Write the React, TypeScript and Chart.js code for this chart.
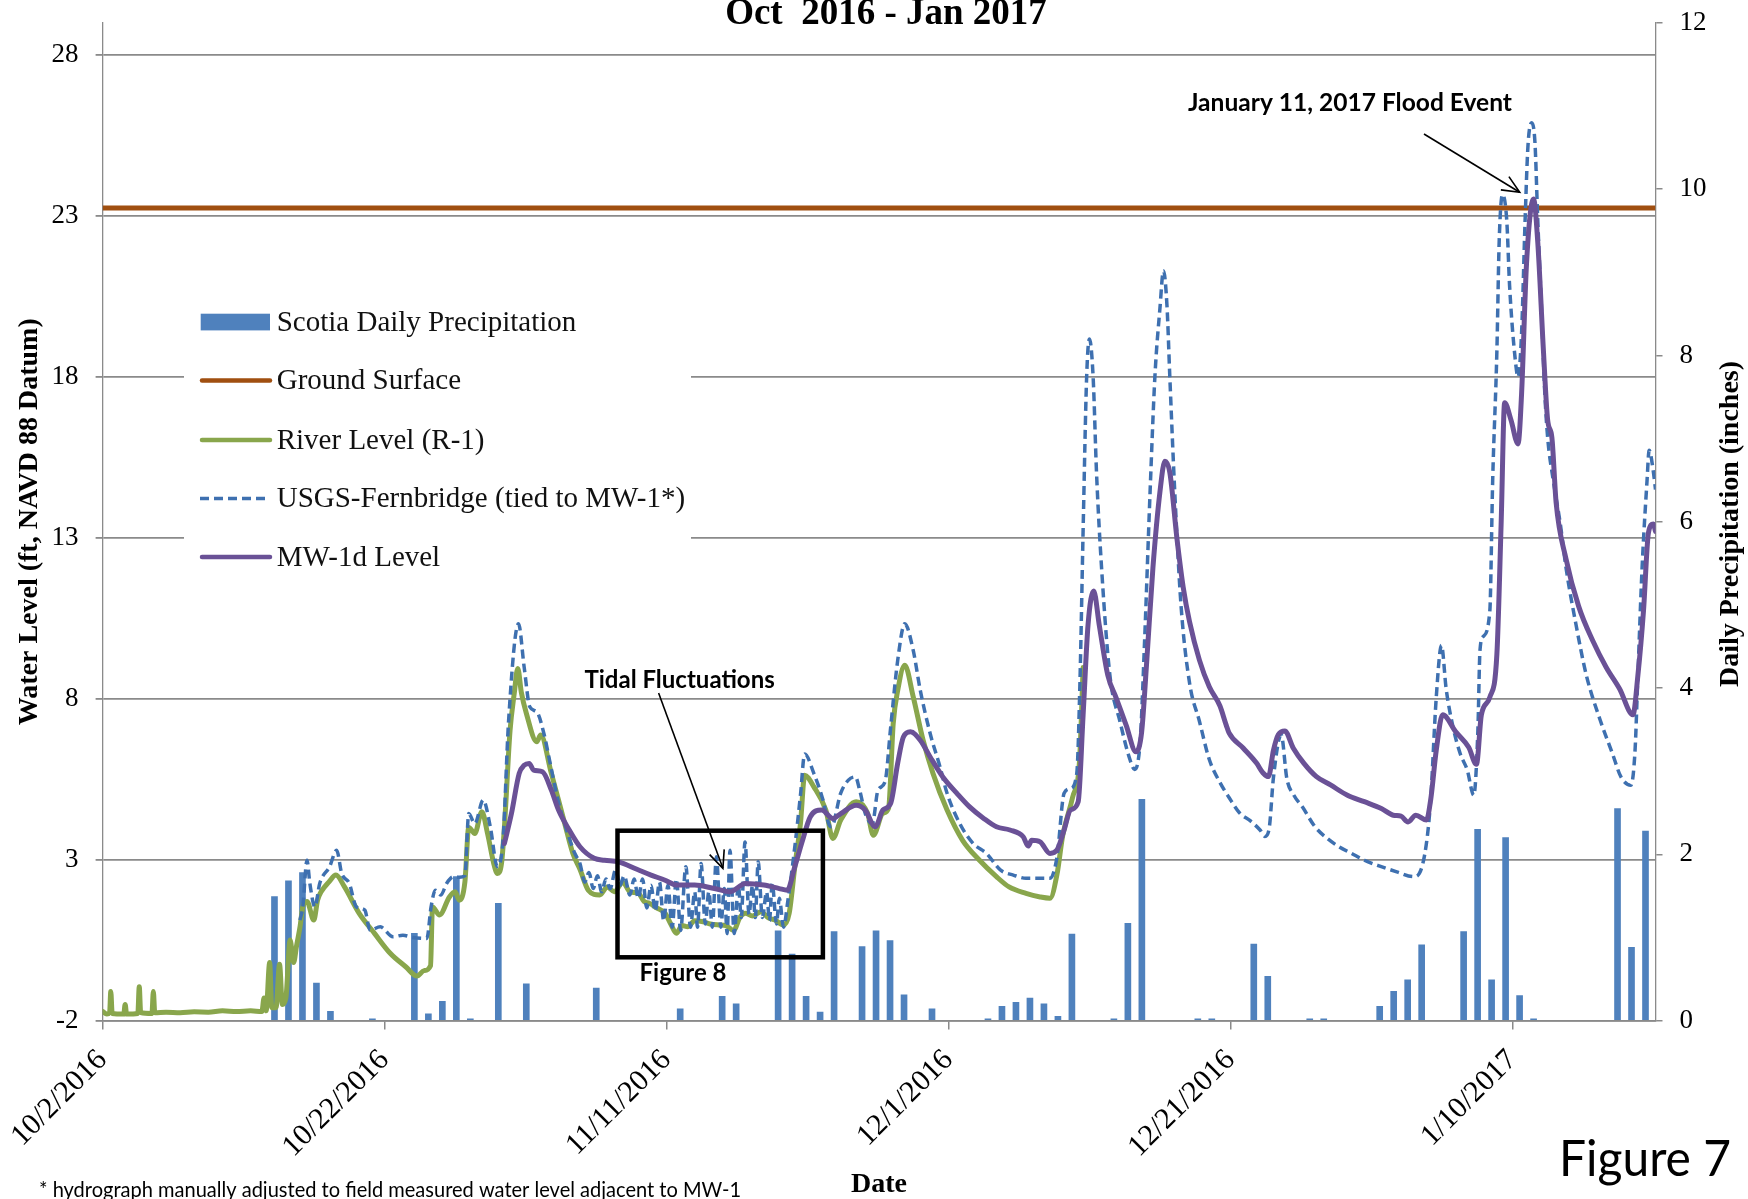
import React, { useEffect, useRef } from 'react';
import { Chart, registerables } from 'chart.js';

Chart.register(...registerables);

const W = 1748;
const H = 1199;

// ---------- axis ticks ----------
const xTickDays = [0, 20, 40, 60, 80, 100];
const xTickLabels = ['10/2/2016', '10/22/2016', '11/11/2016', '12/1/2016', '12/21/2016', '1/10/2017'];
const leftTicks = [-2, 3, 8, 13, 18, 23, 28];
const rightTicks = [0, 2, 4, 6, 8, 10, 12];
const xMaxDay = 110.15; // days after 10/2/2016 at right edge

// ---------- Scotia daily precipitation (day index after 10/2/2016, inches) ----------
const precipDay = [12, 13, 14, 15, 16, 19, 22, 23, 24, 25, 26, 28, 30, 35, 41, 44, 45, 48, 49, 50, 51, 52, 54, 55, 56,
  57, 59, 63, 64, 65, 66, 67, 68, 69, 72, 73, 74, 78, 79, 82, 83, 86, 87, 91, 92, 93, 94, 97, 98, 99, 100, 101, 102,
  108, 109, 110];
const precipInches = [1.49, 1.68, 1.78, 0.45, 0.11, 0.02, 1.05, 0.08, 0.23, 1.73, 0.02, 1.41, 0.44, 0.39, 0.14, 0.29,
  0.2, 1.08, 0.8, 0.29, 0.1, 1.07, 0.89, 1.08, 0.96, 0.31, 0.14, 0.02, 0.17, 0.22, 0.27, 0.2, 0.05, 1.04, 0.02, 1.17,
  2.66, 0.02, 0.02, 0.92, 0.53, 0.02, 0.02, 0.17, 0.35, 0.49, 0.91, 1.07, 2.3, 0.49, 2.2, 0.3, 0.02, 2.55, 0.88, 2.28];

// ---------- Ground surface ----------
const groundDays = [0, xMaxDay];
const groundLevel = [23.25, 23.25];

// ---------- River Level (R-1) ----------
const riverDays = [0, 0.3, 0.5, 0.58, 0.68, 1.5, 1.6, 1.7, 2.5, 2.6,
  2.7, 3.5, 3.6, 3.7, 4.5, 5.5, 6.5, 7.5, 8.5, 9.5,
  10.5, 11.3, 11.45, 11.6, 11.85, 12.0, 12.3, 12.55, 12.75, 13.0,
  13.3, 13.55, 13.75, 14.0, 14.2, 14.5, 14.98, 15.25, 15.5, 16.06,
  16.55, 17.15, 18.2, 19.3, 20.4, 21.5, 22.3, 22.8, 23.26, 23.4,
  23.9, 24.6, 25.0, 25.3, 25.7, 25.97, 26.4, 26.9, 27.3, 27.8,
  28.0, 28.3, 28.5, 28.9, 29.2, 29.45, 29.7, 30.06, 30.8, 31.07,
  31.83, 32.34, 32.84, 33.35, 33.86, 34.45, 35.26, 35.8, 36.3, 36.9,
  37.4, 38.0, 38.4, 38.8, 39.3, 39.9, 40.3, 40.7, 41.1, 41.5,
  42.0, 42.6, 43.1, 43.7, 44.2, 44.76, 45.2, 45.6, 46.1, 46.7,
  47.2, 47.7, 48.3, 48.7, 49.1, 49.5, 49.8, 50.45, 51.3, 51.8,
  52.36, 53.45, 54.26, 54.67, 55.35, 55.75, 56.08, 56.4, 56.9, 57.5,
  58.2, 58.9, 59.9, 61.0, 62.2, 63.4, 64.3, 65.5, 66.5, 67.2,
  67.7, 68.1, 68.8, 69.3, 69.55];
const riverLevel = [-1.72, -1.8, -1.75, -1.1, -1.78, -1.8, -1.5, -1.8, -1.78, -0.95,
  -1.75, -1.78, -1.1, -1.76, -1.74, -1.76, -1.73, -1.74, -1.7, -1.72,
  -1.7, -1.72, -1.3, -1.7, -0.2, -1.6, -1.6, -0.25, -1.5, -1.3,
  0.5, -0.2, 0.3, 0.9, 1.53, 1.7, 1.12, 1.74, 2.0, 2.31,
  2.52, 2.16, 1.33, 0.7, 0.09, -0.33, -0.62, -0.45, -0.3, 1.53,
  1.28, 1.84, 2.0, 1.74, 2.31, 4.0, 3.81, 4.49, 3.82, 2.78,
  2.57, 2.9, 4.0, 7.0, 8.17, 8.94, 8.2, 7.54, 6.66, 6.87,
  5.68, 4.85, 4.02, 3.2, 2.7, 2.05, 1.9, 2.15, 2.0, 2.3,
  2.0, 1.96, 1.7, 1.64, 1.5, 1.33, 1.0, 0.71, 0.95, 0.91,
  1.1, 1.07, 1.0, 0.97, 0.95, 0.8, 1.2, 1.33, 1.25, 1.38,
  1.2, 1.12, 0.97, 1.33, 2.78, 4.12, 5.62, 5.26, 4.54, 3.66,
  4.23, 4.8, 4.44, 3.76, 4.44, 4.6, 7.23, 8.26, 9.04, 8.06,
  6.71, 5.68, 4.54, 3.6, 2.98, 2.47, 2.15, 1.95, 1.84, 1.8,
  2.55, 3.74, 4.93, 6.11, 8.97];

// ---------- USGS-Fernbridge (tied to MW-1*) ----------
const usgsDays = [14.0, 14.2, 14.5, 14.7, 15.06, 15.4, 16.1, 16.6, 16.96, 17.5,
  18.0, 18.6, 18.96, 19.7, 20.6, 21.3, 22.0, 23.0, 23.3, 23.6,
  24.0, 24.4, 24.9, 25.3, 25.7, 25.97, 26.4, 27.0, 27.5, 28.0,
  28.4, 28.8, 29.5, 29.9, 30.3, 30.8, 31.3, 31.8, 32.3, 32.84,
  33.5, 33.86, 34.2, 34.5, 34.8, 35.1, 35.4, 35.7, 36.0, 36.4,
  36.7, 37.0, 37.4, 37.7, 38.0, 38.3, 38.6, 38.9, 39.2, 39.5,
  39.8, 40.1, 40.4, 40.7, 41.0, 41.37, 41.7, 42.0, 42.2, 42.45,
  42.75, 43.0, 43.25, 43.54, 43.85, 44.1, 44.3, 44.5, 44.8, 45.1,
  45.3, 45.57, 45.85, 46.1, 46.3, 46.5, 46.8, 47.1, 47.3, 47.5,
  47.8, 48.0, 48.3, 48.6, 49.1, 49.5, 49.8, 50.45, 51.1, 51.5,
  51.7, 52.35, 52.9, 53.4, 53.7, 54.1, 54.6, 55.0, 55.5, 55.9,
  56.4, 56.9, 57.5, 58.0, 58.7, 59.4, 59.9, 60.8, 61.75, 62.7,
  63.7, 64.6, 65.5, 66.5, 67.2, 67.7, 68.2, 68.65, 69.1, 69.33,
  69.55, 69.8, 70.0, 70.26, 70.5, 70.86, 71.45, 72.16, 72.87, 73.2,
  73.6, 73.9, 74.3, 74.64, 75.0, 75.25, 75.5, 75.7, 76.05, 76.5,
  77.1, 77.8, 78.5, 79.25, 79.9, 80.65, 81.4, 82.1, 82.45, 82.75,
  83.05, 83.6, 84.0, 84.5, 85.1, 86.0, 86.86, 87.7, 88.6, 89.5,
  90.7, 91.8, 93.0, 93.4, 93.9, 94.2, 94.6, 94.97, 95.3, 95.8,
  96.3, 96.8, 97.26, 97.55, 97.7, 97.92, 98.4, 98.6, 98.9, 99.06,
  99.3, 99.6, 99.8, 100.2, 100.4, 100.65, 100.9, 101.1, 101.36, 101.6,
  101.8, 102.06, 102.3, 102.5, 102.9, 103.4, 103.8, 104.5, 105.25, 106.2,
  107.1, 107.7, 108.4, 108.7, 108.9, 109.2, 109.55, 109.7, 110.0, 110.15];
const usgsLevel = [1.12, 1.53, 2.98, 2.26, 1.53, 2.26, 2.78, 3.29, 2.57, 2.26,
  1.53, 1.43, 0.81, 0.91, 0.6, 0.65, 0.58, 0.55, 1.53, 2.05,
  1.9, 2.26, 2.47, 2.45, 2.5, 4.43, 4.12, 4.85, 4.02, 2.78,
  3.6, 7.33, 10.33, 8.99, 7.75, 7.59, 6.92, 5.88, 4.85, 4.02,
  3.19, 2.88, 2.3, 2.6, 2.1, 2.5, 2.0, 2.4, 2.1, 2.7,
  2.2, 2.5, 1.9, 2.4, 1.8, 2.4, 1.5, 2.2, 1.4, 2.3,
  1.1, 2.2, 0.9, 2.4, 0.8, 2.78, 0.9, 2.0, 0.9, 2.88,
  1.0, 2.0, 0.9, 3.09, 0.9, 2.1, 0.7, 3.29, 0.7, 2.2,
  1.2, 3.55, 1.3, 2.2, 1.2, 2.93, 1.2, 2.0, 1.1, 2.26,
  1.0, 1.8, 0.9, 1.7, 3.4, 5.0, 6.28, 5.68, 4.85, 4.12,
  4.02, 5.06, 5.47, 5.57, 5.16, 4.43, 4.12, 5.16, 5.42, 7.12,
  9.2, 10.33, 9.5, 8.26, 6.92, 5.88, 5.06, 4.12, 3.5, 3.19,
  2.67, 2.52, 2.42, 2.42, 2.42, 3.09, 5.06, 5.21, 5.68, 8.6,
  13.24, 18.0, 19.18, 18.0, 15.03, 12.06, 8.73, 7.3, 6.11, 5.8,
  6.7, 9.68, 14.43, 18.0, 20.14, 21.3, 20.2, 18.0, 14.43, 10.87,
  8.49, 7.3, 6.11, 5.4, 4.93, 4.45, 4.21, 3.92, 3.72, 3.98,
  5.55, 6.88, 5.52, 5.0, 4.64, 4.02, 3.66, 3.4, 3.19, 2.98,
  2.78, 2.62, 2.47, 2.57, 3.5, 4.85, 8.05, 9.66, 8.31, 7.1,
  6.29, 5.78, 5.0, 7.0, 9.5, 9.93, 10.74, 14.77, 18.82, 22.18,
  23.67, 22.86, 20.84, 18.55, 18.0, 19.36, 22.86, 25.15, 25.9, 25.28,
  22.86, 20.16, 17.47, 16.12, 14.78, 13.43, 12.08, 10.33, 8.72, 7.37,
  6.29, 5.57, 5.31, 6.4, 8.72, 12.08, 14.78, 15.72, 15.05, 14.5];

// ---------- MW-1d Level ----------
const mwDays = [28.5, 29.0, 29.55, 29.9, 30.26, 30.57, 31.2, 31.83, 32.34, 33.1,
  33.86, 34.87, 35.6, 36.6, 37.9, 38.9, 39.9, 40.7, 42.0, 43.4,
  44.5, 45.6, 46.9, 48.0, 48.56, 49.1, 49.65, 50.2, 51.0, 51.8,
  52.36, 53.45, 54.1, 54.8, 55.35, 55.9, 56.4, 56.8, 57.3, 58.0,
  58.7, 59.6, 60.6, 61.5, 62.5, 63.4, 64.36, 65.3, 65.65, 65.9,
  66.5, 67.2, 67.7, 68.2, 68.65, 69.2, 69.55, 69.9, 70.3, 70.7,
  71.3, 71.9, 72.6, 73.3, 73.7, 74.05, 74.5, 75.0, 75.35, 75.7,
  76.2, 76.65, 77.1, 77.8, 78.5, 79.25, 79.7, 79.9, 80.9, 81.85,
  82.3, 82.7, 83.05, 83.4, 83.86, 84.45, 85.2, 86.1, 87.1, 88.3,
  89.5, 90.7, 91.55, 92.1, 92.6, 93.15, 93.9, 94.2, 94.6, 95.05,
  96.0, 96.9, 97.45, 97.8, 98.4, 98.9, 99.2, 99.45, 99.9, 100.4,
  100.65, 101.0, 101.5, 101.8, 102.2, 102.5, 102.8, 103.1, 103.8, 104.7,
  105.7, 106.65, 107.6, 108.55, 108.9, 109.3, 109.65, 110.0, 110.15];
const mwLevel = [3.5, 4.43, 5.68, 5.93, 5.99, 5.78, 5.73, 5.16, 4.54, 3.92,
  3.4, 3.04, 2.98, 2.93, 2.7, 2.52, 2.36, 2.21, 2.21, 2.1,
  2.0, 2.26, 2.21, 2.1, 2.05, 2.78, 3.6, 4.33, 4.54, 4.28,
  4.43, 4.69, 4.54, 4.02, 4.54, 4.75, 6.0, 6.81, 6.97, 6.71,
  6.19, 5.57, 5.06, 4.64, 4.28, 4.02, 3.92, 3.71, 3.42, 3.6,
  3.55, 3.19, 3.3, 3.92, 4.54, 4.8, 7.5, 10.3, 11.35, 10.27,
  8.73, 8.02, 7.18, 6.35, 6.96, 9.08, 12.06, 14.43, 15.38, 15.03,
  13.0, 11.46, 10.39, 9.2, 8.37, 7.78, 7.18, 6.94, 6.47, 6.0,
  5.7, 5.58, 6.4, 6.89, 7.0, 6.47, 6.0, 5.58, 5.32, 5.0,
  4.8, 4.59, 4.38, 4.35, 4.17, 4.38, 4.23, 4.85, 6.4, 7.5,
  6.96, 6.49, 5.96, 7.5, 8.05, 9.39, 13.43, 17.2, 16.66, 15.92,
  17.47, 21.51, 23.53, 22.18, 18.82, 16.66, 16.12, 14.1, 12.35, 10.87,
  9.8, 8.98, 8.31, 7.5, 8.72, 10.74, 13.16, 13.43, 13.2];

// ---------- styling ----------
const SERIF = '"Liberation Serif", "Times New Roman", serif';
const SANS = 'Lato, "Open Sans", sans-serif';
const GRID = '#8a8a8a';
const BAR_COLOR = '#4F81BD';
const GROUND_COLOR = '#A04F10';
const RIVER_COLOR = '#89A64C';
const USGS_COLOR = '#3E70B0';
const MW_COLOR = '#6A5196';
const RIGHT_TITLE = 'Daily Precipitation (inches)';

const pts = (xs: number[], ys: number[]) => xs.map((x, i) => ({ x, y: ys[i] }));

const drawArrow = (ctx: CanvasRenderingContext2D, x1: number, y1: number, x2: number, y2: number, head: number) => {
  ctx.beginPath();
  ctx.moveTo(x1, y1);
  ctx.lineTo(x2, y2);
  ctx.stroke();
  const a = Math.atan2(y2 - y1, x2 - x1);
  ctx.beginPath();
  ctx.moveTo(x2 - head * Math.cos(a - 0.42), y2 - head * Math.sin(a - 0.42));
  ctx.lineTo(x2, y2);
  ctx.lineTo(x2 - head * Math.cos(a + 0.42), y2 - head * Math.sin(a + 0.42));
  ctx.stroke();
};

const legendPlugin = {
  id: 'customLegend',
  beforeDatasetsDraw(chart: any) {
    const ctx: CanvasRenderingContext2D = chart.ctx;
    ctx.save();
    ctx.fillStyle = '#ffffff';
    ctx.fillRect(184, 290, 507, 295);
    const rows = [322, 380.5, 440, 498.5, 557];
    chart.data.datasets.forEach((ds: any, i: number) => {
      const y = rows[i];
      if (ds.type === 'bar') {
        ctx.fillStyle = ds.backgroundColor;
        ctx.fillRect(200.7, y - 8.3, 69.3, 16.7);
      } else {
        ctx.strokeStyle = ds.borderColor;
        ctx.lineWidth = ds.borderDash ? 3.5 : 4.5;
        ctx.lineCap = ds.borderDash ? 'butt' : 'round';
        ctx.setLineDash(ds.borderDash || []);
        ctx.beginPath();
        ctx.moveTo(ds.borderDash ? 200 : 202, y);
        ctx.lineTo(270, y);
        ctx.stroke();
        ctx.setLineDash([]);
      }
      ctx.fillStyle = '#111';
      ctx.font = `29px ${SERIF}`;
      ctx.textAlign = 'left';
      ctx.textBaseline = 'middle';
      ctx.fillText(ds.label, 276.7, y + 1);
    });
    ctx.restore();
  },
};

const annotationPlugin = {
  id: 'annotations',
  afterDraw(chart: any) {
    const ctx: CanvasRenderingContext2D = chart.ctx;
    ctx.save();
    // Title (top partially clipped as in the source)
    ctx.fillStyle = '#000';
    ctx.font = `bold 37px ${SERIF}`;
    ctx.textAlign = 'center';
    ctx.textBaseline = 'alphabetic';
    ctx.fillText('Oct  2016 - Jan 2017', 886, 24);

    // Right axis title, reading bottom to top
    ctx.save();
    ctx.translate(1731, 524);
    ctx.rotate(-Math.PI / 2);
    ctx.font = `bold 28px ${SERIF}`;
    ctx.textBaseline = 'middle';
    ctx.fillText(RIGHT_TITLE, 0, 0);
    ctx.restore();

    // Flood event
    ctx.font = `bold 25px ${SANS}`;
    ctx.textAlign = 'center';
    ctx.textBaseline = 'middle';
    ctx.fillText('January 11, 2017 Flood Event', 1350, 103, 324);
    ctx.strokeStyle = '#000';
    ctx.lineWidth = 1.6;
    drawArrow(ctx, 1424, 134, 1519.7, 192.3, 19);

    // Tidal fluctuations
    ctx.font = `bold 24px ${SANS}`;
    ctx.fillText('Tidal Fluctuations', 679.6, 680, 196);
    drawArrow(ctx, 658.6, 693, 722.9, 868.3, 19);

    // Figure 8 box
    ctx.lineWidth = 4.5;
    ctx.strokeRect(617.5, 830.7, 205.4, 126.6);
    ctx.font = `bold 24px ${SANS}`;
    ctx.fillText('Figure 8', 683, 973);

    // Figure 7 label
    ctx.font = `50px ${SANS}`;
    ctx.textAlign = 'left';
    ctx.fillText('Figure 7', 1559, 1160, 172);

    // Footnote
    ctx.font = `20.5px ${SANS}`;
    ctx.fillText('* hydrograph manually adjusted to field measured water level adjacent to MW-1', 39, 1190, 702);
    ctx.restore();
  },
};

export default function App() {
  const ref = useRef<HTMLCanvasElement | null>(null);

  useEffect(() => {
    if (!ref.current) return;
    const lineBase = { type: 'line', pointRadius: 0, pointHoverRadius: 0, fill: false, cubicInterpolationMode: 'monotone', xAxisID: 'x', yAxisID: 'y' };
    const chart = new Chart(ref.current, {
      type: 'line',
      data: {
        datasets: [
          {
            type: 'bar', label: 'Scotia Daily Precipitation',
            data: pts(precipDay, precipInches),
            backgroundColor: BAR_COLOR, borderWidth: 0, barThickness: 6,
            xAxisID: 'xBar', yAxisID: 'y1', order: 5,
          },
          {
            ...lineBase, label: 'Ground Surface', data: pts(groundDays, groundLevel),
            borderColor: GROUND_COLOR, borderWidth: 5, order: 4, cubicInterpolationMode: 'default', tension: 0,
          },
          {
            ...lineBase, label: 'River Level (R-1)', data: pts(riverDays, riverLevel),
            borderColor: RIVER_COLOR, borderWidth: 5, order: 3, borderJoinStyle: 'round', borderCapStyle: 'round',
          },
          {
            ...lineBase, label: 'USGS-Fernbridge (tied to MW-1*)', data: pts(usgsDays, usgsLevel),
            borderColor: USGS_COLOR, borderWidth: 3.5, borderDash: [9, 5], order: 2,
          },
          {
            ...lineBase, label: 'MW-1d Level', data: pts(mwDays, mwLevel),
            borderColor: MW_COLOR, borderWidth: 5, order: 1, borderJoinStyle: 'round', borderCapStyle: 'round',
          },
        ],
      } as any,
      options: {
        responsive: false,
        animation: false,
        devicePixelRatio: 1,
        events: [],
        layout: { padding: { top: 23, left: 0, right: 0, bottom: 0 } },
        plugins: { legend: { display: false }, tooltip: { enabled: false }, title: { display: false } },
        scales: {
          x: {
            type: 'linear', position: 'bottom', min: 0, max: xMaxDay, offset: false,
            afterBuildTicks: (s: any) => { s.ticks = xTickDays.map((v) => ({ value: v })); },
            afterFit: (s: any) => { s.height = H - 1020.5; s.paddingLeft = 0; s.paddingRight = 0; },
            ticks: {
              autoSkip: false, minRotation: 45, maxRotation: 45, padding: 13, color: '#000',
              font: { family: SERIF, size: 30 },
              callback: (v: any) => { const i = xTickDays.indexOf(Number(v)); return i >= 0 ? xTickLabels[i] : ''; },
            },
            grid: { display: true, drawOnChartArea: false, drawTicks: true, tickLength: 9, color: GRID, lineWidth: 1.5 },
            border: { display: true, color: GRID, width: 1.5 },
            title: { display: true, text: 'Date', color: '#000', font: { family: SERIF, size: 28, weight: 'bold', lineHeight: 1 }, padding: { top: 0, bottom: 0 } },
          },
          xBar: { type: 'linear', display: false, min: -0.5, max: 110.5, offset: false },
          y: {
            type: 'linear', position: 'left', min: -2, max: 29,
            afterBuildTicks: (s: any) => { s.ticks = leftTicks.map((v) => ({ value: v })); },
            afterFit: (s: any) => { s.width = 102.6; s.paddingTop = 0; s.paddingBottom = 0; },
            ticks: { padding: 17, color: '#000', font: { family: SERIF, size: 27 } },
            grid: { color: GRID, lineWidth: 1.8, tickLength: 7 },
            border: { display: true, color: GRID, width: 1.3 },
            title: { display: true, text: 'Water Level (ft, NAVD 88 Datum)', color: '#000', font: { family: SERIF, size: 28, weight: 'bold' }, padding: { top: 12.7, bottom: 0 } },
          },
          y1: {
            type: 'linear', position: 'right', min: 0, max: 12,
            afterBuildTicks: (s: any) => { s.ticks = rightTicks.map((v) => ({ value: v })); },
            afterFit: (s: any) => { s.width = W - 1655.5; s.paddingTop = 0; s.paddingBottom = 0; },
            ticks: { padding: 17, color: '#000', font: { family: SERIF, size: 27 } },
            grid: { drawOnChartArea: false, drawTicks: true, tickLength: 7, color: GRID, lineWidth: 1.5 },
            border: { display: true, color: GRID, width: 1.3 },
            title: { display: false, text: RIGHT_TITLE },
          },
        },
      } as any,
      plugins: [legendPlugin, annotationPlugin],
    });
    return () => chart.destroy();
  }, []);

  return (
    <div style={{ position: 'absolute', left: 0, top: 0, width: W, height: H, background: '#ffffff', overflow: 'hidden' }}>
      <canvas ref={ref} width={W} height={H} style={{ display: 'block', width: W, height: H }} />
    </div>
  );
}
